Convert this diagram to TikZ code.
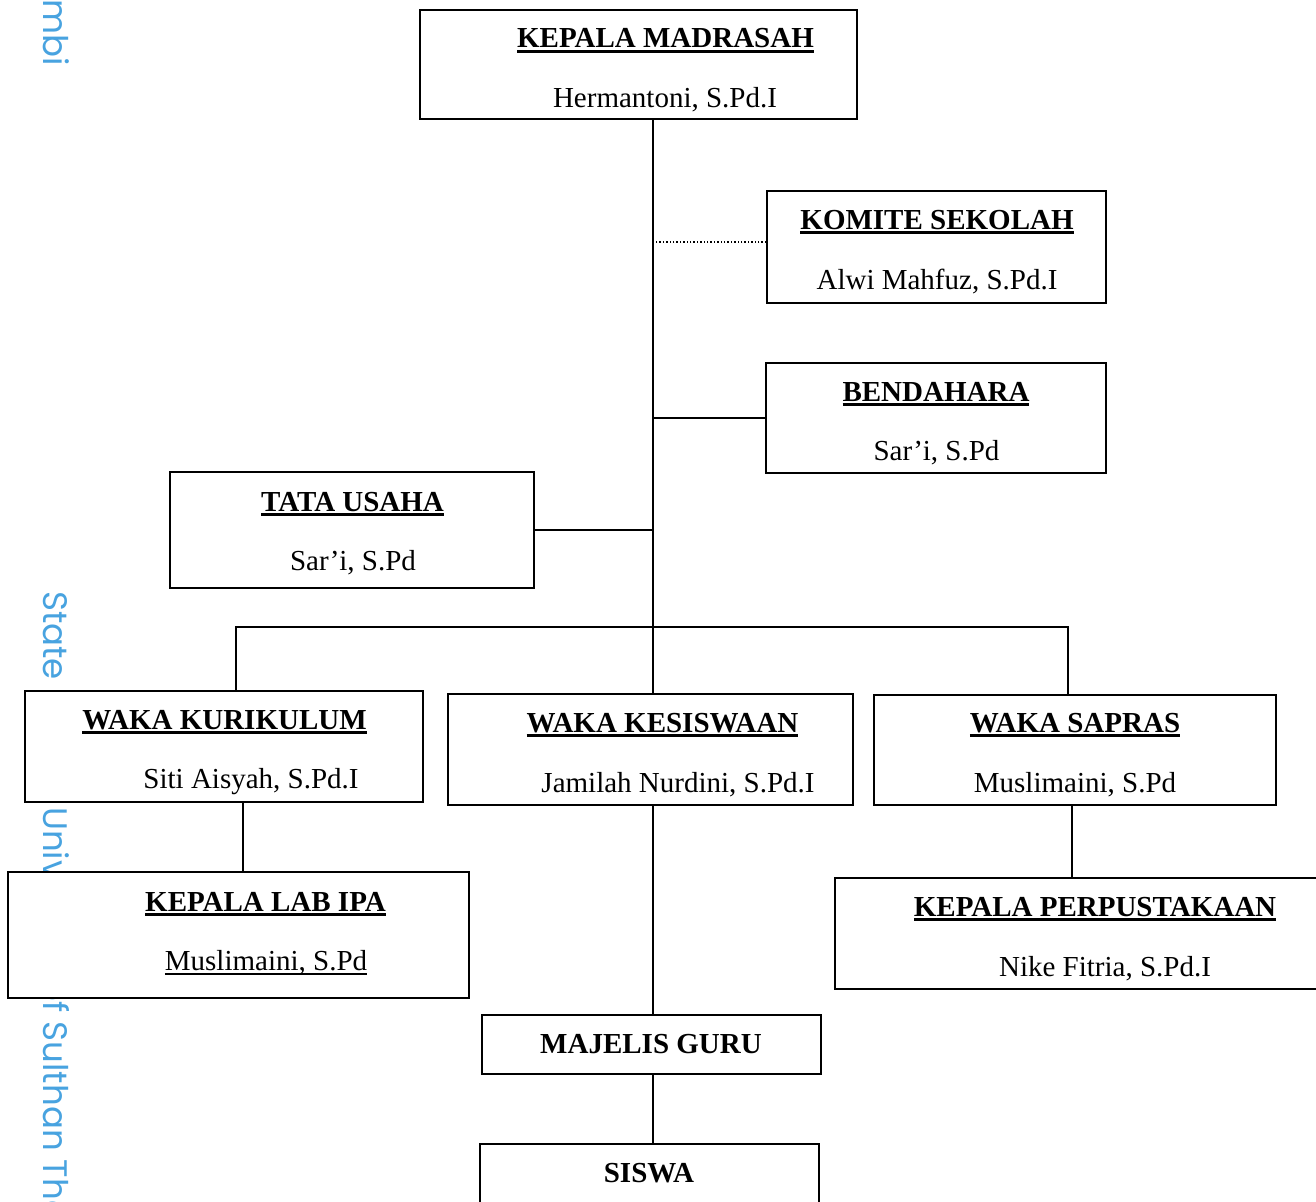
\documentclass[tikz,border=0pt]{standalone}
\usepackage{fontspec}
\setmainfont{Liberation Serif}
\newfontfamily\wmfont{Poppins}
\definecolor{wm}{RGB}{72,163,224}
\newcommand\ulb[1]{\setbox0\hbox{#1}\rlap{\rule[-5pt]{\wd0}{2.6pt}}\box0}
\newcommand\ulr[1]{\setbox0\hbox{#1}\rlap{\rule[-4.5pt]{\wd0}{1.6pt}}\box0}
\begin{document}
\begin{tikzpicture}[x=1pt,y=-1pt,
  box/.style={draw, line width=1.8pt, fill=white, inner sep=0pt},
  ttl/.style={anchor=base, inner sep=0pt, font=\fontsize{29}{34}\selectfont\bfseries},
  nm/.style={anchor=base, inner sep=0pt, font=\fontsize{29}{34}\selectfont},
  conn/.style={line width=1.8pt},
  wmtext/.style={rotate=-90, inner sep=0pt, text=wm, font=\wmfont\fontsize{34}{38}\selectfont}]
\clip (0,0) rectangle (1316,1201);
\fill[white] (0,0) rectangle (1316,1201);
% watermark
\node[wmtext, anchor=base east] (wm1) at (43,66) {Jambi};
\node[wmtext, anchor=base west] (wm2) at (43,591) {State};
\node[wmtext, anchor=base west] (wm4) at (43,807) {University of Sulthan Thaha Saifuddin Jambi};
% boxes
\node[box, minimum width=437, minimum height=109] (kepala) at (638.5,64.5) {};
\node[box, minimum width=339, minimum height=112] (komite) at (936.5,247) {};
\node[box, minimum width=340, minimum height=110] (bendahara) at (936,418) {};
\node[box, minimum width=364, minimum height=116] (tata) at (352,530) {};
\node[box, minimum width=398, minimum height=111] (kurikulum) at (224,746.5) {};
\node[box, minimum width=405, minimum height=111] (kesiswaan) at (650.5,749.5) {};
\node[box, minimum width=402, minimum height=110] (sapras) at (1075,750) {};
\node[box, minimum width=461, minimum height=126] (lab) at (238.5,935) {};
\node[box, minimum width=490, minimum height=111] (perpus) at (1080,933.5) {};
\node[box, minimum width=339, minimum height=59] (majelis) at (651.5,1044.5) {};
\node[box, minimum width=339, minimum height=71] (siswa) at (649.5,1179.5) {};
% texts
\node[ttl] (t1) at (665.5,48) {\ulb{KEPALA MADRASAH}};
\node[nm] (n1) at (665,108) {Hermantoni, S.Pd.I};
\node[ttl] (t2) at (937,229) {\ulb{KOMITE SEKOLAH}};
\node[nm] (n2) at (937,289) {Alwi Mahfuz, S.Pd.I};
\node[ttl] (t3) at (936,401) {\ulb{BENDAHARA}};
\node[nm] (n3) at (936.5,460) {Sar’i, S.Pd};
\node[ttl] (t4) at (352.5,511) {\ulb{TATA USAHA}};
\node[nm] (n4) at (353,570) {Sar’i, S.Pd};
\node[ttl] (t5) at (224.5,729) {\ulb{WAKA KURIKULUM}};
\node[nm] (n5) at (251,788) {Siti Aisyah, S.Pd.I};
\node[ttl] (t6) at (662.5,732) {\ulb{WAKA KESISWAAN}};
\node[nm] (n6) at (678,792) {Jamilah Nurdini, S.Pd.I};
\node[ttl] (t7) at (1075,732) {\ulb{WAKA SAPRAS}};
\node[nm] (n7) at (1075,792) {Muslimaini, S.Pd};
\node[ttl] (t8) at (265.5,911) {\ulb{KEPALA LAB IPA}};
\node[nm] (n8) at (266,970) {\ulr{Muslimaini, S.Pd}};
\node[ttl] (t9) at (1095,916) {\ulb{KEPALA PERPUSTAKAAN}};
\node[nm] (n9) at (1105,976) {Nike Fitria, S.Pd.I};
\node[ttl] (t10) at (651,1053) {MAJELIS GURU};
\node[ttl] (t11) at (649,1182) {SISWA};
% connectors
\coordinate (trunk) at (653,0);
\coordinate (dl) at (0,242);
\coordinate (busL) at (236,627);
\coordinate (busR) at (1068,627);
\coordinate (labx) at (243,0);
\coordinate (perx) at (1072,0);
\draw[conn] (kepala.south -| trunk) -- (kesiswaan.north -| trunk);
\draw[line width=1.4pt, dotted] (komite.west |- dl) -- (trunk |- dl);
\draw[conn] (bendahara.west) -- (bendahara.west -| trunk);
\draw[conn] (tata.east) -- (tata.east -| trunk);
\draw[conn] (kurikulum.north -| busL) -- (busL) -- (busR) -- (sapras.north -| busR);
\draw[conn] (kurikulum.south -| labx) -- (lab.north -| labx);
\draw[conn] (sapras.south -| perx) -- (perpus.north -| perx);
\draw[conn] (kesiswaan.south -| trunk) -- (majelis.north -| trunk);
\draw[conn] (majelis.south -| trunk) -- (siswa.north -| trunk);
\end{tikzpicture}
\end{document}
